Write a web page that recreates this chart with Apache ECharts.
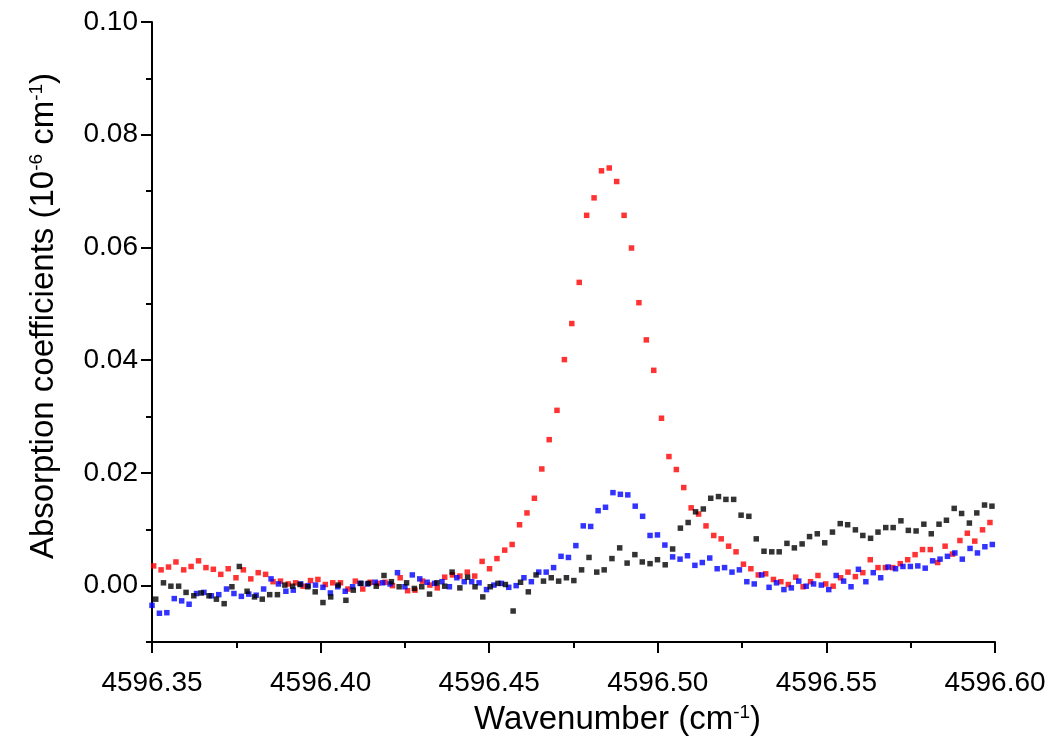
<!DOCTYPE html>
<html>
<head>
<meta charset="utf-8">
<script src="https://cdn.jsdelivr.net/npm/echarts@6/dist/echarts.min.js"></script>
<style>
html,body{margin:0;padding:0;background:#fff;}
#chart{width:1049px;height:743px;}
</style>
</head>
<body>
<div id="chart"></div>
<script>
// ---- tick labels ----
const xTickLabels = ['4596.35','4596.40','4596.45','4596.50','4596.55','4596.60'];
const yTickLabels = ['0.00','0.02','0.04','0.06','0.08','0.10'];
const yAxisBottom = -0.01;

// ---- red series ----
const redWavenumber = [
4596.3505,4596.3527,4596.3549,4596.3571,4596.3594,4596.3616,4596.3638,4596.3660,4596.3682,4596.3704,
4596.3726,4596.3749,4596.3771,4596.3793,4596.3815,4596.3837,4596.3859,4596.3881,4596.3904,4596.3926,
4596.3948,4596.3970,4596.3992,4596.4014,4596.4036,4596.4059,4596.4081,4596.4103,4596.4125,4596.4147,
4596.4169,4596.4191,4596.4213,4596.4236,4596.4258,4596.4280,4596.4302,4596.4324,4596.4346,4596.4368,
4596.4391,4596.4413,4596.4435,4596.4457,4596.4479,4596.4501,4596.4523,4596.4546,4596.4568,4596.4590,
4596.4612,4596.4634,4596.4656,4596.4678,4596.4701,4596.4723,4596.4745,4596.4767,4596.4789,4596.4811,
4596.4833,4596.4856,4596.4878,4596.4900,4596.4922,4596.4944,4596.4966,4596.4988,4596.5011,4596.5033,
4596.5055,4596.5077,4596.5099,4596.5121,4596.5143,4596.5166,4596.5188,4596.5210,4596.5232,4596.5254,
4596.5276,4596.5298,4596.5320,4596.5343,4596.5365,4596.5387,4596.5409,4596.5431,4596.5453,4596.5475,
4596.5498,4596.5520,4596.5542,4596.5564,4596.5586,4596.5608,4596.5630,4596.5653,4596.5675,4596.5697,
4596.5719,4596.5741,4596.5763,4596.5785,4596.5808,4596.5830,4596.5852,4596.5874,4596.5896,4596.5918,
4596.5940,4596.5963,4596.5985];
const redAbsorption = [
0.0035,0.0028,0.0033,0.0042,0.0028,0.0034,0.0044,0.0032,0.0029,0.0020,
0.0030,0.0014,0.0028,0.0012,0.0023,0.0020,0.0007,0.0008,0.0003,0.0005,
-0.0001,0.0009,0.0011,0.0002,0.0005,0.0005,-0.0006,0.0008,-0.0006,0.0006,
0.0004,0.0006,0.0000,0.0014,-0.0009,-0.0008,0.0008,0.0001,-0.0004,0.0015,
0.0019,0.0017,0.0024,0.0017,0.0043,0.0030,0.0048,0.0063,0.0073,0.0108,
0.0129,0.0155,0.0207,0.0259,0.0311,0.0401,0.0465,0.0538,0.0657,0.0688,
0.0736,0.0741,0.0717,0.0657,0.0599,0.0502,0.0436,0.0382,0.0297,0.0229,
0.0206,0.0174,0.0138,0.0127,0.0106,0.0089,0.0083,0.0070,0.0060,0.0038,
0.0030,0.0019,0.0021,0.0011,0.0007,0.0002,0.0015,-0.0002,0.0007,0.0018,
0.0003,-0.0001,0.0014,0.0024,0.0016,0.0023,0.0046,0.0032,0.0032,0.0032,
0.0039,0.0046,0.0055,0.0064,0.0064,0.0041,0.0070,0.0056,0.0080,0.0093,
0.0079,0.0099,0.0112];

// ---- blue series ----
const blueWavenumber = [
4596.3500,4596.3522,4596.3544,4596.3566,4596.3588,4596.3610,4596.3632,4596.3654,4596.3676,4596.3698,
4596.3721,4596.3743,4596.3765,4596.3787,4596.3809,4596.3831,4596.3853,4596.3875,4596.3897,4596.3919,
4596.3941,4596.3963,4596.3985,4596.4007,4596.4029,4596.4051,4596.4073,4596.4095,4596.4117,4596.4139,
4596.4162,4596.4184,4596.4206,4596.4228,4596.4250,4596.4272,4596.4294,4596.4316,4596.4338,4596.4360,
4596.4382,4596.4404,4596.4426,4596.4448,4596.4470,4596.4492,4596.4514,4596.4536,4596.4558,4596.4580,
4596.4603,4596.4625,4596.4647,4596.4669,4596.4691,4596.4713,4596.4735,4596.4757,4596.4779,4596.4801,
4596.4823,4596.4845,4596.4867,4596.4889,4596.4911,4596.4933,4596.4955,4596.4977,4596.4999,4596.5021,
4596.5044,4596.5066,4596.5088,4596.5110,4596.5132,4596.5154,4596.5176,4596.5198,4596.5220,4596.5242,
4596.5264,4596.5286,4596.5308,4596.5330,4596.5352,4596.5374,4596.5396,4596.5418,4596.5440,4596.5462,
4596.5485,4596.5507,4596.5529,4596.5551,4596.5573,4596.5595,4596.5617,4596.5639,4596.5661,4596.5683,
4596.5705,4596.5727,4596.5749,4596.5771,4596.5793,4596.5815,4596.5837,4596.5859,4596.5881,4596.5903,
4596.5926,4596.5948,4596.5970,4596.5992];
const blueAbsorption = [
-0.0035,-0.0049,-0.0048,-0.0023,-0.0027,-0.0033,-0.0014,-0.0012,-0.0018,-0.0016,
-0.0006,-0.0014,-0.0019,-0.0015,-0.0017,-0.0006,0.0012,0.0003,-0.0010,-0.0008,
0.0003,0.0000,0.0001,-0.0003,-0.0013,-0.0002,-0.0010,-0.0002,0.0004,0.0003,
0.0006,0.0005,0.0003,0.0023,-0.0002,0.0019,0.0012,0.0006,0.0004,0.0007,
-0.0002,0.0014,0.0007,0.0007,0.0005,-0.0007,0.0001,0.0004,-0.0003,0.0000,
0.0014,0.0007,0.0024,0.0024,0.0032,0.0052,0.0050,0.0071,0.0106,0.0105,
0.0133,0.0139,0.0165,0.0162,0.0161,0.0141,0.0123,0.0089,0.0090,0.0072,
0.0051,0.0047,0.0053,0.0036,0.0041,0.0049,0.0030,0.0032,0.0024,0.0028,
0.0007,0.0003,0.0019,-0.0003,0.0005,-0.0007,-0.0004,0.0008,-0.0001,0.0003,
0.0001,-0.0007,0.0018,0.0008,-0.0002,0.0029,0.0007,0.0023,0.0014,0.0033,
0.0030,0.0034,0.0034,0.0035,0.0031,0.0044,0.0047,0.0052,0.0058,0.0047,
0.0066,0.0058,0.0069,0.0073];

// ---- black series ----
const blackWavenumber = [
4596.3511,4596.3534,4596.3556,4596.3579,4596.3601,4596.3624,4596.3646,4596.3669,4596.3691,4596.3714,
4596.3737,4596.3759,4596.3782,4596.3804,4596.3827,4596.3849,4596.3872,4596.3894,4596.3917,4596.3939,
4596.3962,4596.3984,4596.4007,4596.4030,4596.4052,4596.4075,4596.4097,4596.4120,4596.4142,4596.4165,
4596.4188,4596.4210,4596.4233,4596.4255,4596.4278,4596.4300,4596.4323,4596.4345,4596.4368,4596.4390,
4596.4413,4596.4436,4596.4458,4596.4481,4596.4503,4596.4526,4596.4548,4596.4571,4596.4593,4596.4616,
4596.4639,4596.4661,4596.4684,4596.4706,4596.4729,4596.4751,4596.4774,4596.4796,4596.4819,4596.4841,
4596.4864,4596.4887,4596.4909,4596.4932,4596.4954,4596.4977,4596.4999,4596.5022,4596.5044,4596.5067,
4596.5090,4596.5112,4596.5135,4596.5157,4596.5180,4596.5202,4596.5225,4596.5247,4596.5270,4596.5292,
4596.5315,4596.5338,4596.5360,4596.5383,4596.5405,4596.5428,4596.5450,4596.5473,4596.5495,4596.5518,
4596.5541,4596.5563,4596.5586,4596.5608,4596.5631,4596.5653,4596.5676,4596.5698,4596.5721,4596.5743,
4596.5766,4596.5789,4596.5811,4596.5834,4596.5856,4596.5879,4596.5901,4596.5924,4596.5946,4596.5969,
4596.5991];
const blackAbsorption = [
-0.0024,0.0005,-0.0001,-0.0001,-0.0012,-0.0018,-0.0013,-0.0018,-0.0024,-0.0032,
-0.0002,0.0034,-0.0010,-0.0020,-0.0024,-0.0016,-0.0016,0.0001,-0.0001,0.0002,
-0.0002,-0.0011,-0.0030,-0.0020,0.0001,-0.0026,-0.0008,0.0004,0.0004,-0.0001,
0.0018,0.0007,-0.0002,0.0005,-0.0005,-0.0002,-0.0015,0.0005,-0.0001,0.0024,
-0.0004,0.0015,-0.0002,-0.0020,-0.0002,0.0004,0.0002,-0.0045,0.0006,-0.0011,
0.0019,0.0008,0.0014,0.0008,0.0014,0.0009,0.0028,0.0050,0.0024,0.0028,
0.0048,0.0067,0.0040,0.0055,0.0042,0.0039,0.0046,0.0037,0.0065,0.0102,
0.0112,0.0131,0.0136,0.0155,0.0158,0.0153,0.0153,0.0125,0.0123,0.0083,
0.0061,0.0060,0.0060,0.0075,0.0067,0.0074,0.0087,0.0092,0.0076,0.0095,
0.0110,0.0108,0.0099,0.0089,0.0084,0.0095,0.0103,0.0103,0.0115,0.0098,
0.0097,0.0109,0.0092,0.0109,0.0116,0.0137,0.0128,0.0111,0.0129,0.0143,
0.0141];

const FONT = '"Liberation Sans", Arial, Helvetica, sans-serif';
const pair = (xs, ys) => xs.map((x, i) => [x, ys[i]]);

const xMin = parseFloat(xTickLabels[0]);
const xMax = parseFloat(xTickLabels[xTickLabels.length - 1]);
const xStep = +(parseFloat(xTickLabels[1]) - xMin).toFixed(4);
const yMin = parseFloat(yTickLabels[0]);
const yMax = parseFloat(yTickLabels[yTickLabels.length - 1]);
const yStep = +(parseFloat(yTickLabels[1]) - yMin).toFixed(4);

const axisColor = '#000';
const lineW = 2;

const chart = echarts.init(document.getElementById('chart'), null, {renderer: 'canvas'});
const plotTop = 22, plotBottom = 101, plotH = 743 - plotTop - plotBottom;
const zeroGridH = plotH * (yMax - yMin) / (yMax - yAxisBottom);

const option = {
  animation: false,
  backgroundColor: '#fff',
  grid: [
    {left: 152, right: 54, top: plotTop, bottom: plotBottom},
    {left: 152, right: 54, top: plotTop, height: zeroGridH}
  ],
  xAxis: [
    {
      type: 'value', gridIndex: 0, min: xMin, max: xMax, interval: xStep,
      axisLine: {show: true, onZero: false, lineStyle: {color: axisColor, width: lineW}},
      axisTick: {show: true, length: 11, lineStyle: {color: axisColor, width: lineW}},
      minorTick: {show: true, splitNumber: 2, length: 6, lineStyle: {color: axisColor, width: lineW}},
      splitLine: {show: false}, minorSplitLine: {show: false},
      axisLabel: {color: '#000', fontSize: 28, fontFamily: FONT, margin: 27,
        formatter: v => v.toFixed(2)},
      name: '{t|Wavenumber (cm}{s|-1}{t|)}',
      nameLocation: 'middle', nameGap: 61,
      nameTextStyle: {color: '#000', fontFamily: FONT, fontSize: 33, padding: [0, 0, 0, 88],
        rich: {
          t: {color: '#000', fontFamily: FONT, fontSize: 33},
          s: {color: '#000', fontFamily: FONT, fontSize: 19, verticalAlign: 'top'}
        }}
    },
    {type: 'value', gridIndex: 1, show: false, min: xMin, max: xMax}
  ],
  yAxis: [
    {
      type: 'value', gridIndex: 0, min: yAxisBottom, max: yMax, interval: 0.01,
      axisLine: {show: true, onZero: false, lineStyle: {color: axisColor, width: lineW}},
      axisTick: {show: true, length: 6, lineStyle: {color: axisColor, width: lineW}},
      axisLabel: {show: false},
      splitLine: {show: false},
      name: '{t|Absorption coefficients (10}{s|-6}{t| cm}{s|-1}{t|)}',
      nameLocation: 'middle', nameGap: 92,
      nameTextStyle: {color: '#000', fontFamily: FONT, fontSize: 33, padding: [0, 0, 0, 32],
        rich: {
          t: {color: '#000', fontFamily: FONT, fontSize: 33},
          s: {color: '#000', fontFamily: FONT, fontSize: 19, verticalAlign: 'top'}
        }}
    },
    {
      type: 'value', gridIndex: 1, min: yMin, max: yMax, interval: yStep,
      axisLine: {show: false},
      axisTick: {show: true, length: 11, lineStyle: {color: axisColor, width: lineW}},
      axisLabel: {color: '#000', fontSize: 28, fontFamily: FONT, margin: 14,
        formatter: v => v.toFixed(2)},
      splitLine: {show: false}
    }
  ],
  series: [
    {name: 'red', type: 'scatter', xAxisIndex: 0, yAxisIndex: 0, symbol: 'rect', symbolSize: 5.5,
      itemStyle: {color: '#ff0000'}, data: pair(redWavenumber, redAbsorption)},
    {name: 'blue', type: 'scatter', xAxisIndex: 0, yAxisIndex: 0, symbol: 'rect', symbolSize: 5.5,
      itemStyle: {color: '#0000ff'}, data: pair(blueWavenumber, blueAbsorption)},
    {name: 'black', type: 'scatter', xAxisIndex: 0, yAxisIndex: 0, symbol: 'rect', symbolSize: 5.5,
      itemStyle: {color: '#000000'}, data: pair(blackWavenumber, blackAbsorption)}
  ]
};
chart.setOption(option);
</script>
</body>
</html>
